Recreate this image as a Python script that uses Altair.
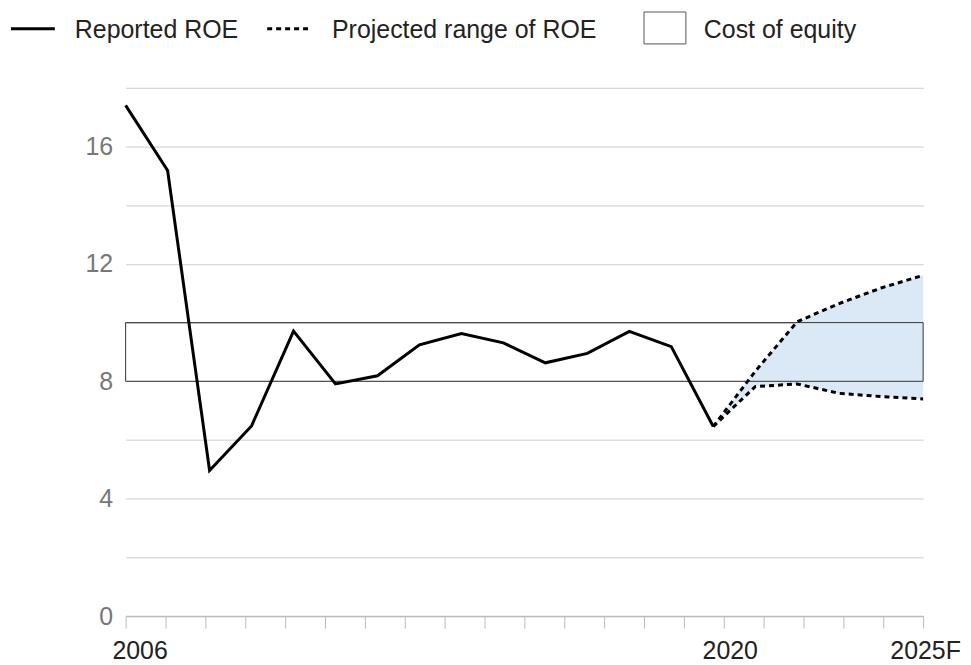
import altair as alt
import pandas as pd

# ---- data ----
years = list(range(2006, 2021))
reported_roe = [17.40, 15.18, 4.96, 6.48, 9.71, 7.91, 8.19, 9.24, 9.63, 9.31, 8.63, 8.95, 9.70, 9.18, 6.46]

proj_years = [2020, 2021, 2022, 2023, 2024, 2025]
proj_high = [6.46, 8.34, 10.03, 10.65, 11.18, 11.61]
proj_low = [6.46, 7.82, 7.91, 7.59, 7.48, 7.40]

coe_years = [2006, 2025]
coe_range = [8, 10]

y_tick_values = [0, 2, 4, 6, 8, 10, 12, 14, 16, 18]
x_tick_count = 21
x_label_text = ["2006", "2020", "2025F"]
legend_labels = ["Reported ROE", "Projected range of ROE", "Cost of equity"]

FONT = "Liberation Sans"

df_rep = pd.DataFrame({"year": years, "roe": reported_roe})
df_proj = pd.DataFrame({"year": proj_years, "high": proj_high, "low": proj_low})
df_coe = pd.DataFrame({"start": [coe_years[0]], "end": [coe_years[1]],
                       "low": [coe_range[0]], "high": [coe_range[1]]})

x0, x1 = 2006, 2025
x_ticks = [x0 + k * (x1 - x0) / (x_tick_count - 1) for k in range(x_tick_count)]

x_scale = alt.Scale(domain=[x0, x1], nice=False, zero=False)
y_scale = alt.Scale(domain=[0, 18], nice=False)

x_axis = alt.Axis(
    values=x_ticks, title=None, grid=False,
    labelExpr=("datum.value < 2006.5 ? '%s' : (abs(datum.value - 2020.25) < 0.1 ? '%s' : "
               "(datum.value > 2024.9 ? '%s' : ''))") % tuple(x_label_text),
    labelFont=FONT, labelFontSize=25, labelColor="#222222",
    labelOffset=alt.ExprRef(expr="datum.value < 2006.5 ? 14 : (datum.value > 2024.9 ? 2 : 6)"),
    labelPadding=11, labelOverlap=False, labelFlush=False,
    domainColor="#bbbbbb", domainWidth=1.5,
    tickColor="#bbbbbb", tickSize=12, tickWidth=1,
)
y_axis = alt.Axis(
    values=y_tick_values, title=None, domain=False, ticks=False,
    labelExpr="datum.value % 4 == 0 ? datum.label : ''",
    labelFont=FONT, labelFontSize=25, labelColor="#777777", labelPadding=13,
    gridColor="#cccccc", gridWidth=1,
)

area = alt.Chart(df_proj).mark_area(color="#dbe9f6", opacity=1).encode(
    x=alt.X("year:Q", scale=x_scale, axis=x_axis),
    y=alt.Y("low:Q", scale=y_scale, axis=y_axis),
    y2="high:Q",
)

coe = alt.Chart(df_coe).mark_rect(fill="transparent", stroke="#333333", strokeWidth=1).encode(
    x=alt.X("start:Q", scale=x_scale, axis=x_axis),
    x2="end:Q",
    y=alt.Y("low:Q", scale=y_scale, axis=y_axis),
    y2="high:Q",
)

rep_line = alt.Chart(df_rep).mark_line(color="black", strokeWidth=3).encode(
    x=alt.X("year:Q", scale=x_scale, axis=x_axis),
    y=alt.Y("roe:Q", scale=y_scale, axis=y_axis),
)

high_line = alt.Chart(df_proj).mark_line(color="black", strokeWidth=3, strokeDash=[5, 4]).encode(
    x=alt.X("year:Q", scale=x_scale, axis=x_axis),
    y=alt.Y("high:Q", scale=y_scale, axis=y_axis),
)
low_line = alt.Chart(df_proj).mark_line(color="black", strokeWidth=3, strokeDash=[5, 4]).encode(
    x=alt.X("year:Q", scale=x_scale, axis=x_axis),
    y=alt.Y("low:Q", scale=y_scale, axis=y_axis),
)

# ---- manual legend (above the plot) ----
one = alt.Data(values=[{"k": 1}])
leg_y = -59.3
leg_text_y = -50.3

leg_solid = alt.Chart(one).mark_rule(color="black", strokeWidth=3).encode(
    x=alt.value(-115), x2=alt.value(-71), y=alt.value(leg_y))
leg_dot = alt.Chart(one).mark_rule(color="black", strokeWidth=3, strokeDash=[5, 4]).encode(
    x=alt.value(142), x2=alt.value(186), y=alt.value(leg_y))
leg_box = alt.Chart(one).mark_rect(fill="white", stroke="#555555", strokeWidth=1).encode(
    x=alt.value(520), x2=alt.value(562), y=alt.value(-76), y2=alt.value(-44))


def leg_text(label, xpos):
    return alt.Chart(one).mark_text(
        align="left", baseline="alphabetic", font=FONT, fontSize=25, color="#222222"
    ).encode(x=alt.value(xpos), y=alt.value(leg_text_y), text=alt.value(label))


legend = [leg_solid, leg_text(legend_labels[0], -51),
          leg_dot, leg_text(legend_labels[1], 207),
          leg_box, leg_text(legend_labels[2], 580)]

chart = alt.layer(area, coe, rep_line, high_line, low_line, *legend).properties(
    width=800, height=530,
    padding={"left": 118, "top": 79, "right": 40, "bottom": 46},
    autosize=alt.AutoSizeParams(type="none"),
).configure_view(strokeWidth=0)

chart.save("out.html", embed_options={"renderer": "svg", "actions": False})
